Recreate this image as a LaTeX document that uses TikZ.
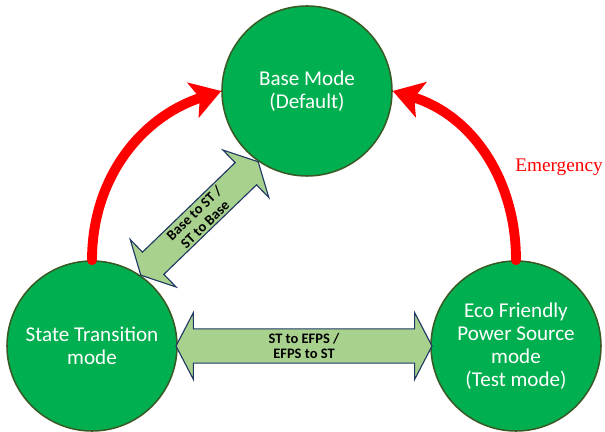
\documentclass[tikz,border=0pt]{standalone}
\usepackage{fontspec}
\setmainfont{Carlito}
\newfontfamily\emgfont{Liberation Serif}
\usetikzlibrary{shapes.arrows,arrows.meta,calc}
\definecolor{modegreen}{HTML}{00B050}
\definecolor{modeedge}{HTML}{3A5A25}
\definecolor{linkgreen}{HTML}{A9D18E}
\definecolor{linkedge}{HTML}{1F3864}

\begin{document}
\begin{tikzpicture}
    [mode/.style={circle,draw=modeedge,line width=1.1pt,fill=modegreen,minimum size=4.25cm,inner sep=0pt,align=center,text=white,font=\fontsize{15}{16.5}\selectfont},
     link/.style={double arrow,draw=linkedge,line width=0.8pt,fill=linkgreen,align=center,font=\fontsize{10.3}{11}\selectfont\bfseries,double arrow tip angle=125,inner xsep=0pt},
     jump/.style={line width=7pt,red,line cap=round,-{Stealth[length=21pt,width=26pt,inset=5pt]}}]

    \useasboundingbox (0,0) rectangle (15.125,10.8);

    \node[mode] (base) at (7.675,8.525) {Base Mode\\(Default)};
    \node[mode] (st) at (2.3,2.15) {State Transition\\mode};
    \node[mode] (eco) at (12.9,2.15) {Eco Friendly\\Power Source\\mode\\(Test mode)};

    \draw[jump] (st.north) to[out=90,in=198] (base.west);
    \draw[jump] (eco.north) to[out=90,in=-17] (base.east);

    \node[link,rotate=44,minimum height=4.08cm,inner ysep=1.4pt,double arrow head extend=0.44cm] (diag) at ($(st)!0.5!(base)$) {Base to ST /\\ST to Base};
    \node[link,minimum height=6.4cm,inner ysep=2.6pt,double arrow head extend=0.41cm] (side) at ($(st)!0.5!(eco)$) {ST to EFPS /\\EFPS to ST};

    \node[font=\emgfont\fontsize{13.7}{16}\selectfont,text=red] (emerg) at (13.975,6.625) {Emergency};

\end{tikzpicture}
\end{document}
